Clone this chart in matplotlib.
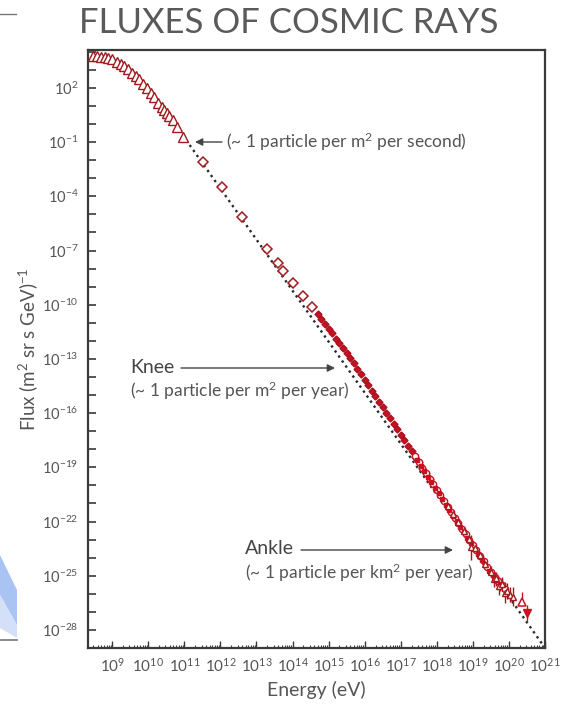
import matplotlib
matplotlib.use("Agg")
import matplotlib.pyplot as plt
import numpy as np
from matplotlib.ticker import LogLocator, FuncFormatter, NullLocator, NullFormatter
from matplotlib.patches import Polygon
from matplotlib.lines import Line2D

plt.rcParams['font.family'] = ['Lato', 'DejaVu Sans']
plt.rcParams['mathtext.default'] = 'regular'

# all values are log10(energy / eV) and log10(flux)
tri_loge = [8.46, 8.57, 8.68, 8.79, 8.89, 9.00, 9.13, 9.24, 9.33, 9.45, 9.56, 9.66, 9.75,
            9.86, 9.96, 10.07, 10.16, 10.28, 10.37, 10.44, 10.51, 10.58, 10.68, 10.81, 10.97]
tri_logf = [3.79, 3.77, 3.73, 3.70, 3.64, 3.59, 3.46, 3.33, 3.22, 3.04, 2.81, 2.68, 2.48,
            2.22, 1.98, 1.71, 1.49, 1.15, 0.97, 0.78, 0.63, 0.45, 0.23, -0.17, -0.73]

dia_loge = [11.53, 12.04, 12.61, 13.28, 13.59, 13.74, 14.01, 14.30, 14.53]
dia_logf = [-2.11, -3.46, -5.16, -6.93, -7.67, -8.13, -8.78, -9.49, -10.10]

knee_loge = [14.7, 14.8, 14.9, 15.0, 15.1, 15.2, 15.3, 15.4, 15.5, 15.6, 15.7, 15.8, 15.9,
             16.0, 16.1, 16.2, 16.3, 16.4, 16.5, 16.6, 16.7, 16.8, 16.9, 17.0, 17.1, 17.2,
             17.3, 17.4, 17.5, 17.6, 17.7, 17.8]
knee_logf = [-10.53, -10.81, -11.06, -11.35, -11.59, -11.88, -12.13, -12.41, -12.66, -12.95,
             -13.24, -13.56, -13.85, -14.17, -14.46, -14.78, -15.07, -15.39, -15.68, -16.00,
             -16.29, -16.61, -16.90, -17.22, -17.51, -17.83, -18.12, -18.44, -18.73, -19.05,
             -19.34, -19.66]

uhe1_loge = [17.4, 17.5, 17.6, 17.7, 17.8, 17.9, 18.0, 18.1, 18.2, 18.3, 18.4, 18.5, 18.6,
             18.7, 18.8, 18.9, 19.0, 19.1, 19.2, 19.3, 19.4, 19.5, 19.6, 19.7, 19.8, 19.9]
uhe1_logf = [-18.40, -18.72, -19.01, -19.33, -19.62, -19.95, -20.24, -20.55, -20.85, -21.17,
             -21.46, -21.78, -22.08, -22.39, -22.69, -23.00, -23.30, -23.60, -23.93, -24.20,
             -24.52, -24.80, -25.05, -25.30, -25.50, -25.75]
uhe1_err = [0.05, 0.05, 0.05, 0.05, 0.05, 0.05, 0.05, 0.05, 0.06, 0.06, 0.06, 0.07, 0.08,
            0.08, 0.09, 0.10, 0.10, 0.12, 0.13, 0.15, 0.18, 0.20, 0.25, 0.30, 0.35, 0.40]

uhe2_loge = [17.45, 17.55, 17.65, 17.75, 17.85, 17.95, 18.05, 18.15, 18.25, 18.35, 18.45,
             18.55, 18.65, 18.75, 18.85, 18.95, 19.05, 19.15, 19.25, 19.35, 19.45, 19.55,
             19.65, 19.75]
uhe2_logf = [-18.62, -18.92, -19.22, -19.53, -19.83, -20.14, -20.44, -20.75, -21.06, -21.36,
             -21.67, -21.98, -22.28, -22.58, -22.90, -23.20, -23.50, -23.82, -24.12, -24.43,
             -24.72, -24.95, -25.25, -25.48]
uhe2_err = [0.04, 0.04, 0.04, 0.04, 0.05, 0.05, 0.05, 0.05, 0.06, 0.06, 0.07, 0.07, 0.08,
            0.09, 0.10, 0.11, 0.12, 0.14, 0.16, 0.18, 0.22, 0.26, 0.30, 0.35]

uhe3_loge = [18.30, 18.45, 18.60, 18.75, 18.90, 18.94, 19.05, 19.20, 19.35, 19.50, 19.58,
             19.65, 19.72, 19.80, 19.88, 19.95, 20.02, 20.10]
uhe3_logf = [-21.12, -21.60, -22.05, -22.52, -22.98, -23.43, -23.45, -23.88, -24.35, -24.78,
             -25.20, -25.15, -25.55, -25.45, -25.95, -25.85, -26.05, -26.15]
uhe3_err = [0.10, 0.10, 0.12, 0.12, 0.15, 0.70, 0.18, 0.20, 0.25, 0.30, 0.45, 0.35, 0.50,
            0.40, 0.55, 0.45, 0.40, 0.50]

top_loge = [20.35]
top_logf = [-26.43]
top_err_up = [0.55]
lim_loge = [20.49]
lim_logf = [-27.07]
lim_err = [0.45]

fit_loge = [11.05, 20.92]
fit_logf = [-0.88, -28.77]

dark = '#a01a1e'
red = '#cc1020'
grey = '#555555'


def pw(a):
    return 10.0 ** np.asarray(a, dtype=float)


def logerr(f, e):
    f = np.asarray(f, dtype=float)
    e = np.asarray(e, dtype=float)
    return [pw(f) - pw(f - e), pw(f + e) - pw(f)]


def fx(px):
    return px / 567


def fy(py):
    return 1 - py / 704


fig = plt.figure(figsize=(5.67, 7.04), dpi=100)

# leftover bits of a neighbouring picture at the left edge
fig.patches.append(Polygon([(fx(0), fy(555)), (fx(17), fy(590)), (fx(17), fy(625)), (fx(0), fy(595))],
                           closed=True, transform=fig.transFigure, color='#a9c3f2', lw=0))
fig.patches.append(Polygon([(fx(0), fy(595)), (fx(17), fy(625)), (fx(17), fy(638)), (fx(0), fy(628))],
                           closed=True, transform=fig.transFigure, color='#d3e0f8', lw=0))
fig.lines.append(Line2D([fx(0), fx(17)], [fy(640), fy(640)], transform=fig.transFigure,
                        color='#777777', lw=1.2))
fig.lines.append(Line2D([fx(0), fx(16)], [fy(14), fy(14)], transform=fig.transFigure,
                        color='#777777', lw=1.0))

ax = fig.add_axes([88 / 567, 1 - 648 / 704, (545 - 88) / 567, (648 - 50) / 704])
ax.set_xscale('log')
ax.set_yscale('log')

ax.plot(pw(fit_loge), pw(fit_logf), ls=(0, (1, 1.6)), color='#2a2a2a', lw=1.7, zorder=2)

ax.plot(pw(tri_loge), pw(tri_logf), '^', mfc='white', mec=dark, mew=1.0, ms=6.5, zorder=3)
ax.plot(pw(dia_loge), pw(dia_logf), 'D', mfc='white', mec=dark, mew=1.1, ms=5, zorder=3)
ax.errorbar(pw(knee_loge), pw(knee_logf), yerr=logerr(knee_logf, [0.08] * len(knee_logf)),
            fmt='D', color=red, mfc=red, mec='#a81020', ms=3.5, elinewidth=1, capsize=0, zorder=3)

ax.errorbar(pw(uhe1_loge), pw(uhe1_logf), yerr=logerr(uhe1_logf, uhe1_err), fmt='o',
            mfc='white', mec=red, color=red, ms=4.5, mew=1.0, elinewidth=1, capsize=0, zorder=4)
ax.errorbar(pw(uhe2_loge), pw(uhe2_logf), yerr=logerr(uhe2_logf, uhe2_err), fmt='s',
            mfc=red, mec=red, color=red, ms=3.5, elinewidth=1, capsize=0, zorder=4)
ax.errorbar(pw(uhe3_loge), pw(uhe3_logf), yerr=logerr(uhe3_logf, uhe3_err), fmt='^',
            mfc='white', mec=dark, color=dark, ms=4.5, mew=1.0, elinewidth=1, capsize=0, zorder=4)
ax.errorbar(pw(top_loge), pw(top_logf), yerr=[[0.0], pw(np.add(top_logf, top_err_up)) - pw(top_logf)],
            fmt='^', mfc='white', mec=red, color=red, ms=6, mew=1.1, elinewidth=1, capsize=0, zorder=4)
ax.errorbar(pw(lim_loge), pw(lim_logf), yerr=logerr(lim_logf, lim_err), fmt='v',
            mfc=red, mec=red, color=red, ms=5.5, elinewidth=1, capsize=0, zorder=4)

ax.set_xlim(10 ** 8.33, 10 ** 21.0)
ax.set_ylim(1e-29, 10 ** 4.1)

ax.xaxis.set_major_locator(LogLocator(base=10, numticks=100))
ax.xaxis.set_minor_locator(LogLocator(base=10, subs=np.arange(2, 10), numticks=200))
ax.xaxis.set_major_formatter(FuncFormatter(lambda v, p: '$10^{%d}$' % round(np.log10(v))))
ax.xaxis.set_minor_formatter(NullFormatter())

ax.yaxis.set_major_locator(LogLocator(base=10, numticks=100))
ax.yaxis.set_minor_locator(NullLocator())


def ylab(v, p):
    e = int(round(np.log10(v)))
    return '$10^{%d}$' % e if e % 3 == 2 else ''


ax.yaxis.set_major_formatter(FuncFormatter(ylab))

ax.tick_params(axis='both', which='both', direction='in', color='#3a3a3a',
               labelcolor=grey, top=False, right=False)
ax.tick_params(axis='y', which='major', length=6, width=1.2, labelsize=10.5, pad=7)
ax.tick_params(axis='x', which='major', length=5, width=1.0, labelsize=11, pad=6)
ax.tick_params(axis='x', which='minor', length=2.5, width=0.8)

for s in ax.spines.values():
    s.set_color('#3a3a3a')
    s.set_linewidth(1.6)

ax.set_xlabel('Energy (eV)', fontsize=14, color=grey, labelpad=5)
ax.set_ylabel('Flux (m$^2$ sr s GeV)$^{-1}$', fontsize=13.5, color=grey)
ax.yaxis.set_label_coords(-0.105, 0.5)

fig.text(289 / 567, 1 - 23 / 704, 'FLUXES OF COSMIC RAYS', ha='center', va='center',
         fontsize=25, color='#5a5a5a')

arrow = dict(arrowstyle='-|>', color='#444444', lw=1.0, mutation_scale=11, shrinkA=0, shrinkB=0)

fig.text(fx(226), fy(142), '(~ 1 particle per m$^2$ per second)', fontsize=12.5,
         color=grey, ha='left', va='center')
ax.annotate('', xy=(fx(195), fy(142)), xycoords='figure fraction',
            xytext=(fx(222), fy(142)), textcoords='figure fraction', arrowprops=arrow)

fig.text(fx(130), fy(367), 'Knee', fontsize=14, color='#444444', ha='left', va='center')
fig.text(fx(130), fy(391), '(~ 1 particle per m$^2$ per year)', fontsize=12.5,
         color=grey, ha='left', va='center')
ax.annotate('', xy=(fx(335), fy(368)), xycoords='figure fraction',
            xytext=(fx(181), fy(368)), textcoords='figure fraction', arrowprops=arrow)

fig.text(fx(245), fy(549), 'Ankle', fontsize=14, color='#444444', ha='left', va='center')
fig.text(fx(245), fy(573), '(~ 1 particle per km$^2$ per year)', fontsize=12.5,
         color=grey, ha='left', va='center')
ax.annotate('', xy=(fx(453), fy(550)), xycoords='figure fraction',
            xytext=(fx(301), fy(550)), textcoords='figure fraction', arrowprops=arrow)

fig.savefig('out.png', dpi=100)
